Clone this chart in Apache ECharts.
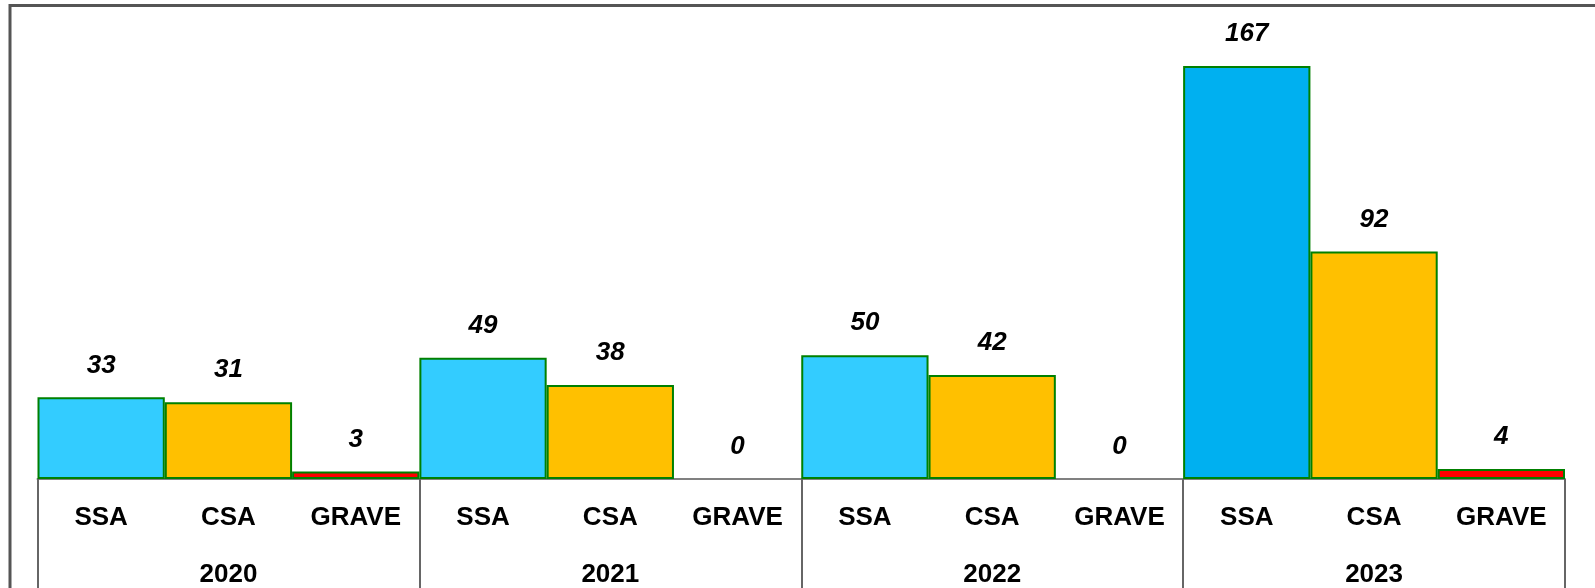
<!DOCTYPE html>
<html>
<head>
<meta charset="utf-8">
<style>
html,body{margin:0;padding:0;background:#fff;}
#chart{width:1595px;height:588px;}
</style>
<script src="https://cdn.jsdelivr.net/npm/echarts@6/dist/echarts.min.js"></script>
</head>
<body>
<div id="chart"></div>
<script>
var years = ['2020', '2021', '2022', '2023'];
var types = ['SSA', 'CSA', 'GRAVE'];
var ssaValues = [33, 49, 50, 167];
var csaValues = [31, 38, 42, 92];
var graveValues = [3, 0, 0, 4];

var typeColors = { SSA: '#33CCFF', CSA: '#FFC000', GRAVE: '#FF0000' };
var highlightColor = '#00B0F0';
var FONT = '"Liberation Sans", Arial, sans-serif';

var categories = [];
var barData = [];
years.forEach(function (y, i) {
  var vals = [ssaValues[i], csaValues[i], graveValues[i]];
  types.forEach(function (t, j) {
    categories.push(t);
    var color = typeColors[t];
    if (t === 'SSA' && y === '2023') color = highlightColor;
    barData.push({
      value: vals[j],
      itemStyle: {
        color: color,
        borderColor: '#008000',
        borderWidth: vals[j] === 0 ? 0 : 2
      }
    });
  });
});

var chart = echarts.init(document.getElementById('chart'));
chart.setOption({
  animation: false,
  backgroundColor: '#fff',
  grid: { left: 37.5, right: 30, top: 9, bottom: 106 },
  graphic: [{
    type: 'rect',
    shape: { x: 10, y: 5.5, width: 1700, height: 700 },
    style: { fill: 'none', stroke: '#555', lineWidth: 3 },
    silent: true
  }],
  xAxis: [{
    type: 'category',
    data: categories,
    position: 'bottom',
    axisLine: { show: true, lineStyle: { color: '#808080', width: 2 } },
    axisTick: { show: false },
    axisLabel: {
      interval: 0,
      margin: 26,
      fontSize: 26,
      fontWeight: 'bold',
      fontFamily: FONT,
      color: '#000'
    }
  }, {
    type: 'category',
    data: years,
    position: 'bottom',
    axisLine: { show: false },
    axisTick: { show: true, length: 130, lineStyle: { color: '#666', width: 2 } },
    axisLabel: {
      interval: 0,
      margin: 83,
      fontSize: 26,
      fontWeight: 'bold',
      fontFamily: FONT,
      color: '#000'
    }
  }],
  yAxis: {
    type: 'value',
    min: 0,
    max: 190,
    show: false,
    splitLine: { show: false }
  },
  series: [{
    type: 'bar',
    xAxisIndex: 0,
    data: barData,
    barCategoryGap: '0%',
    label: {
      show: true,
      position: 'top',
      distance: 19,
      fontSize: 26,
      fontWeight: 'bold',
      fontStyle: 'italic',
      fontFamily: FONT,
      color: '#000'
    }
  }]
});
</script>
</body>
</html>
